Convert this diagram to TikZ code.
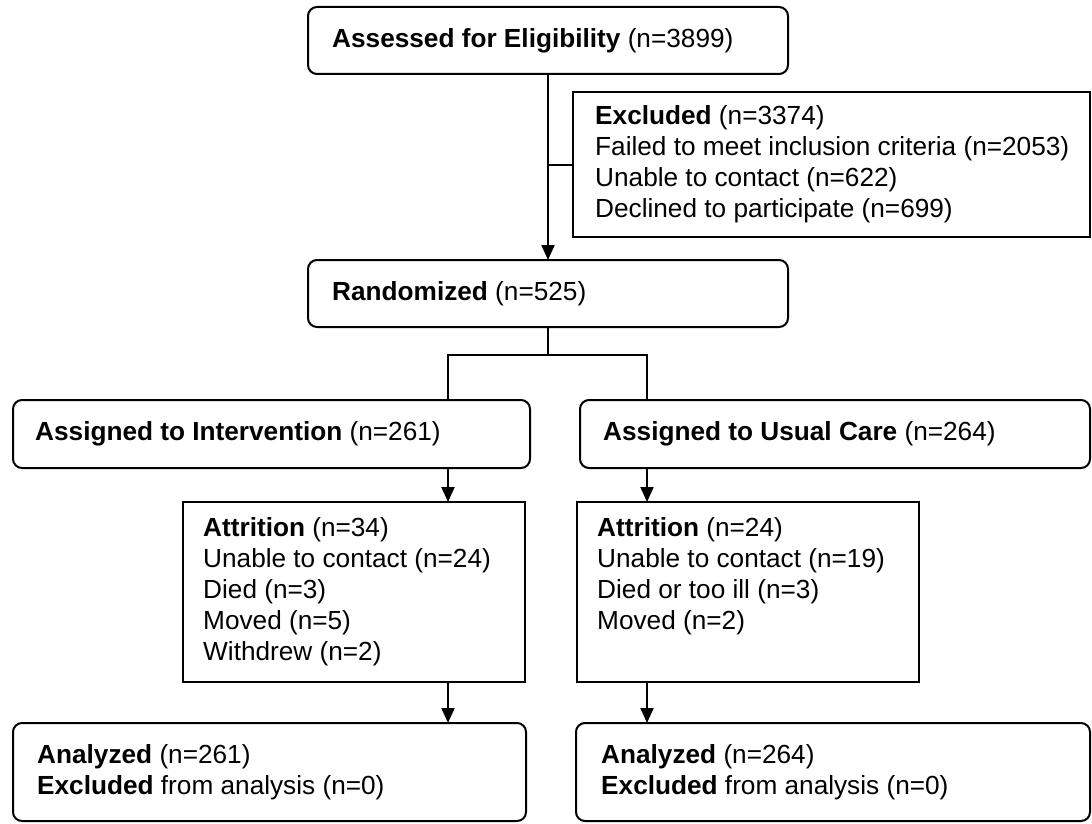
\documentclass[tikz,border=0pt]{standalone}
\usepackage{fontspec}
\setmainfont{Liberation Sans}
\usetikzlibrary{arrows.meta}
\begin{document}
\begin{tikzpicture}[x=1pt,y=-1pt,
  lbl/.style={font=\fontsize{26.2}{31}\selectfont, anchor=west, align=left, inner sep=0pt},
  rbox/.style={draw, line width=2pt, rounded corners=9pt, anchor=north west, inner sep=0pt, outer sep=0pt},
  sbox/.style={draw, line width=2pt, anchor=north west, inner sep=0pt, outer sep=0pt},
  conn/.style={line width=2pt},
  arr/.style={line width=2pt, -{Triangle[width=13pt,length=15pt]}}]
\useasboundingbox (0,0) rectangle (1092,824);
% boxes
\node[rbox, minimum width=480pt, minimum height=67pt] (top) at (308,7) {};
\node[sbox, minimum width=517pt, minimum height=145pt] (excl) at (573,92) {};
\node[rbox, minimum width=480pt, minimum height=67pt] (rand) at (308,260) {};
\node[rbox, minimum width=517pt, minimum height=68pt] (asgL) at (13,400) {};
\node[rbox, minimum width=510pt, minimum height=68pt] (asgR) at (580,400) {};
\node[sbox, minimum width=342pt, minimum height=180pt] (attL) at (183,502) {};
\node[sbox, minimum width=342pt, minimum height=180pt] (attR) at (577,502) {};
\node[rbox, minimum width=513pt, minimum height=98pt] (anaL) at (13,723) {};
\node[rbox, minimum width=514pt, minimum height=98pt] (anaR) at (576,723) {};
% texts
\node[lbl] (ttop) at ([xshift=24pt]top.west) {\textbf{Assessed for Eligibility} (n=3899)};
\node[lbl] (texcl) at ([xshift=22pt]excl.west) {\textbf{Excluded} (n=3374)\\Failed to meet inclusion criteria (n=2053)\\Unable to contact (n=622)\\Declined to participate (n=699)};
\node[lbl] (trand) at ([xshift=24pt]rand.west) {\textbf{Randomized} (n=525)};
\node[lbl] (tasgL) at ([xshift=22pt]asgL.west) {\textbf{Assigned to Intervention} (n=261)};
\node[lbl] (tasgR) at ([xshift=23pt]asgR.west) {\textbf{Assigned to Usual Care} (n=264)};
\node[lbl] (tattL) at ([xshift=20pt]attL.west) {\textbf{Attrition} (n=34)\\Unable to contact (n=24)\\Died (n=3)\\Moved (n=5)\\Withdrew (n=2)};
\coordinate (rx) at ([xshift=20pt]attR.west);
\node[lbl, anchor=north west] (tattR) at (rx |- tattL.north west) {\textbf{Attrition} (n=24)\\Unable to contact (n=19)\\Died or too ill (n=3)\\Moved (n=2)};
\node[lbl] (tanaL) at ([xshift=24pt]anaL.west) {\textbf{Analyzed} (n=261)\\\textbf{Excluded} from analysis (n=0)};
\node[lbl] (tanaR) at ([xshift=25pt]anaR.west) {\textbf{Analyzed} (n=264)\\\textbf{Excluded} from analysis (n=0)};
% connectors
\coordinate (split) at (548,355);
\coordinate (bL) at (448,355);
\coordinate (bR) at (647,355);
\draw[arr] (top.south) -- (rand.north);
\draw[conn] (excl.west) -- (excl.west -| top.south);
\draw[conn] (rand.south) -- (split);
\draw[conn] (asgL.north -| bL) -- (bL) -- (bR) -- (asgR.north -| bR);
\draw[arr] (asgL.south -| bL) -- (attL.north -| bL);
\draw[arr] (attL.south -| bL) -- (anaL.north -| bL);
\draw[arr] (asgR.south -| bR) -- (attR.north -| bR);
\draw[arr] (attR.south -| bR) -- (anaR.north -| bR);
\end{tikzpicture}
\end{document}
